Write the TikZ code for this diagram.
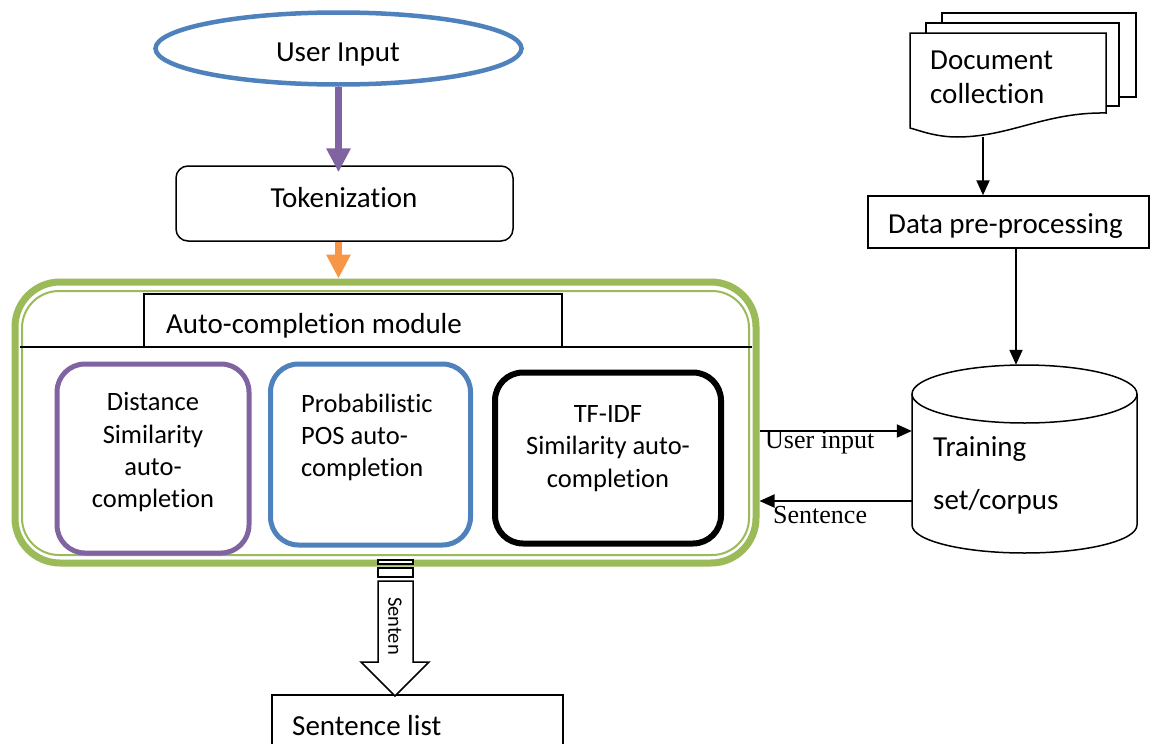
\documentclass[tikz,border=0pt]{standalone}
\usepackage{fontspec}
\setmainfont[Ligatures={NoCommon}]{Carlito}
\newfontfamily\timesfam{Liberation Serif}
\usetikzlibrary{arrows.meta,shapes.geometric}
\definecolor{uiblue}{HTML}{4F81BD}
\definecolor{uipurple}{HTML}{8064A2}
\definecolor{uigreen}{HTML}{9BBB59}
\definecolor{uiorange}{HTML}{F79646}
\newcommand\fmain{\fontsize{29}{35}\selectfont}
\newcommand\finner{\fontsize{26.5}{32}\selectfont}
\newcommand\fserif{\timesfam\fontsize{26}{30}\selectfont}
\newcommand\fsmall{\fontsize{20.5}{24}\selectfont}
\begin{document}
\begin{tikzpicture}[x=1pt,y=-1pt,
  txt/.style={inner sep=0pt, font=\fmain, anchor=base west},
  ctxt/.style={inner sep=0pt, font=\finner, anchor=base},
  ltxt/.style={inner sep=0pt, font=\finner, anchor=base west},
  lbl/.style={inner sep=0pt, font=\fserif, anchor=base west},
  thinbox/.style={draw, line width=1.5pt, inner sep=0pt},
  blackarrow/.style={line width=2pt, -{Triangle[width=13pt,length=15pt]}},
  fatarrow/.style={line width=7pt, -{Triangle[width=23pt,length=24pt]}},
  thinline/.style={line width=1.5pt}
]
\fill[white] (0,0) rectangle (1151,744);
\useasboundingbox (0,0) rectangle (1151,744);

% User input and tokenization
\node[ellipse, draw=uiblue, line width=4.5pt, minimum width=366pt, minimum height=72pt, inner sep=0pt] (ui) at (338.5,48.5) {};
\node[txt, anchor=base] (uit) at (338,61.5) {User Input};
\node[thinbox, rounded corners=12pt, minimum width=337pt, minimum height=75pt] (tok) at (344.5,203.5) {};
\node[txt, anchor=base] (tokt) at (344,207) {Tokenization};

% Module
\node[draw=uigreen, line width=7pt, rounded corners=45pt, minimum width=741pt, minimum height=281pt, inner sep=0pt] (mod) at (385.5,422.5) {};
\draw[uigreen, line width=2pt, rounded corners=37pt] (22,291) rectangle (749,555);
\draw[thinline] (20,347) -- (752,347);
\node[thinbox, minimum width=418pt, minimum height=53pt] (acm) at (353,320.5) {};
\node[txt] (acmt) at (166,333) {Auto-completion module};

\node[draw=uipurple, line width=5pt, rounded corners=28pt, minimum width=192pt, minimum height=189pt, inner sep=0pt] (dist) at (153,458.5) {};
\node[ctxt] (d1) at (153,410) {Distance};
\node[ctxt] (d2) at (153,443) {Similarity};
\node[ctxt] (d3) at (153,475) {auto-};
\node[ctxt] (d4) at (153,507) {completion};

\node[draw=uiblue, line width=5pt, rounded corners=28pt, minimum width=200pt, minimum height=181pt, inner sep=0pt] (prob) at (370.5,454.5) {};
\node[ltxt] (p1) at (301,412) {Probabilistic};
\node[ltxt] (p2) at (301,444) {POS auto-};
\node[ltxt] (p3) at (301,476) {completion};

\node[draw, line width=6pt, rounded corners=28pt, minimum width=226pt, minimum height=171pt, inner sep=0pt] (tfidf) at (608,458) {};
\node[ctxt] (t1) at (608,422) {TF-IDF};
\node[ctxt] (t2) at (608,454) {Similarity auto-};
\node[ctxt] (t3) at (608,487) {completion};

% Document collection
\draw[thinline, fill=white] (942,13) rectangle (1136,97);
\draw[thinline, fill=white] (926,23) rectangle (1119,106);
\draw[thinline, fill=white] (910,33) -- (1106,33) -- (1106,113)
  .. controls (1045,112) and (1010,137) .. (957,137)
  .. controls (935,137) and (918,130) .. (910,128) -- cycle;
\node[txt] (doc1) at (930,69) {Document};
\node[txt] (doc2) at (930,103) {collection};
\coordinate (docb) at (983,137);

% Data pre-processing
\node[thinbox, minimum width=281pt, minimum height=52pt] (dpp) at (1008.5,222) {};
\node[txt] (dppt) at (888,233) {Data pre-processing};

% Cylinder
\node[minimum width=225pt, minimum height=188pt, inner sep=0pt] (cyl) at (1024.5,459) {};
\draw[thinline] (912,394) -- (912,525)
  .. controls (912,540.5) and (962.4,553) .. (1024.5,553)
  .. controls (1086.6,553) and (1137,540.5) .. (1137,525) -- (1137,394);
\draw[thinline] (1024.5,394) ellipse [x radius=112.5pt, y radius=29pt];
\node[txt] (cy1) at (933,456) {Training};
\node[txt] (cy2) at (933,509) {set/corpus};

% Arrows
\draw[fatarrow, uipurple] (ui.south) -- ([yshift=-7pt]tok.north -| ui.south);
\draw[fatarrow, uiorange] (tok.south -| ui.south) -- (mod.north -| ui.south);
\draw[blackarrow] (docb) -- (docb |- dpp.north);
\draw[blackarrow] ([xshift=7.5pt]dpp.south) -- ([xshift=7.5pt]dpp.south |- cyl.north);
\coordinate (uiy) at (0,431);
\coordinate (sy) at (0,501);
\draw[blackarrow] (mod.east |- uiy) -- (cyl.west |- uiy);
\draw[blackarrow] (cyl.west |- sy) -- (mod.east |- sy);
\node[lbl] (lui) at (765,448) {User input};
\node[lbl] (lse) at (773,523) {Sentence};

% Output arrow and sentence list
\node[thinbox, minimum width=291pt, minimum height=56pt] (sl) at (417.5,723) {};
\node[txt] (slt) at (292,735) {Sentence list};
\coordinate (stip) at (395,696);
\draw[thinline, fill=white] (378,560) rectangle (413,564);
\draw[thinline, fill=white] (378,568) rectangle (413,577);
\draw[thinline, fill=white] (378,581) -- (413,581) -- (413,662) -- (429,662) -- (stip) -- (361,662) -- (378,662) -- cycle;
\node[font=\fsmall, rotate=-90, inner sep=0pt] (sen) at (395,626) {Senten};
\end{tikzpicture}
\end{document}
